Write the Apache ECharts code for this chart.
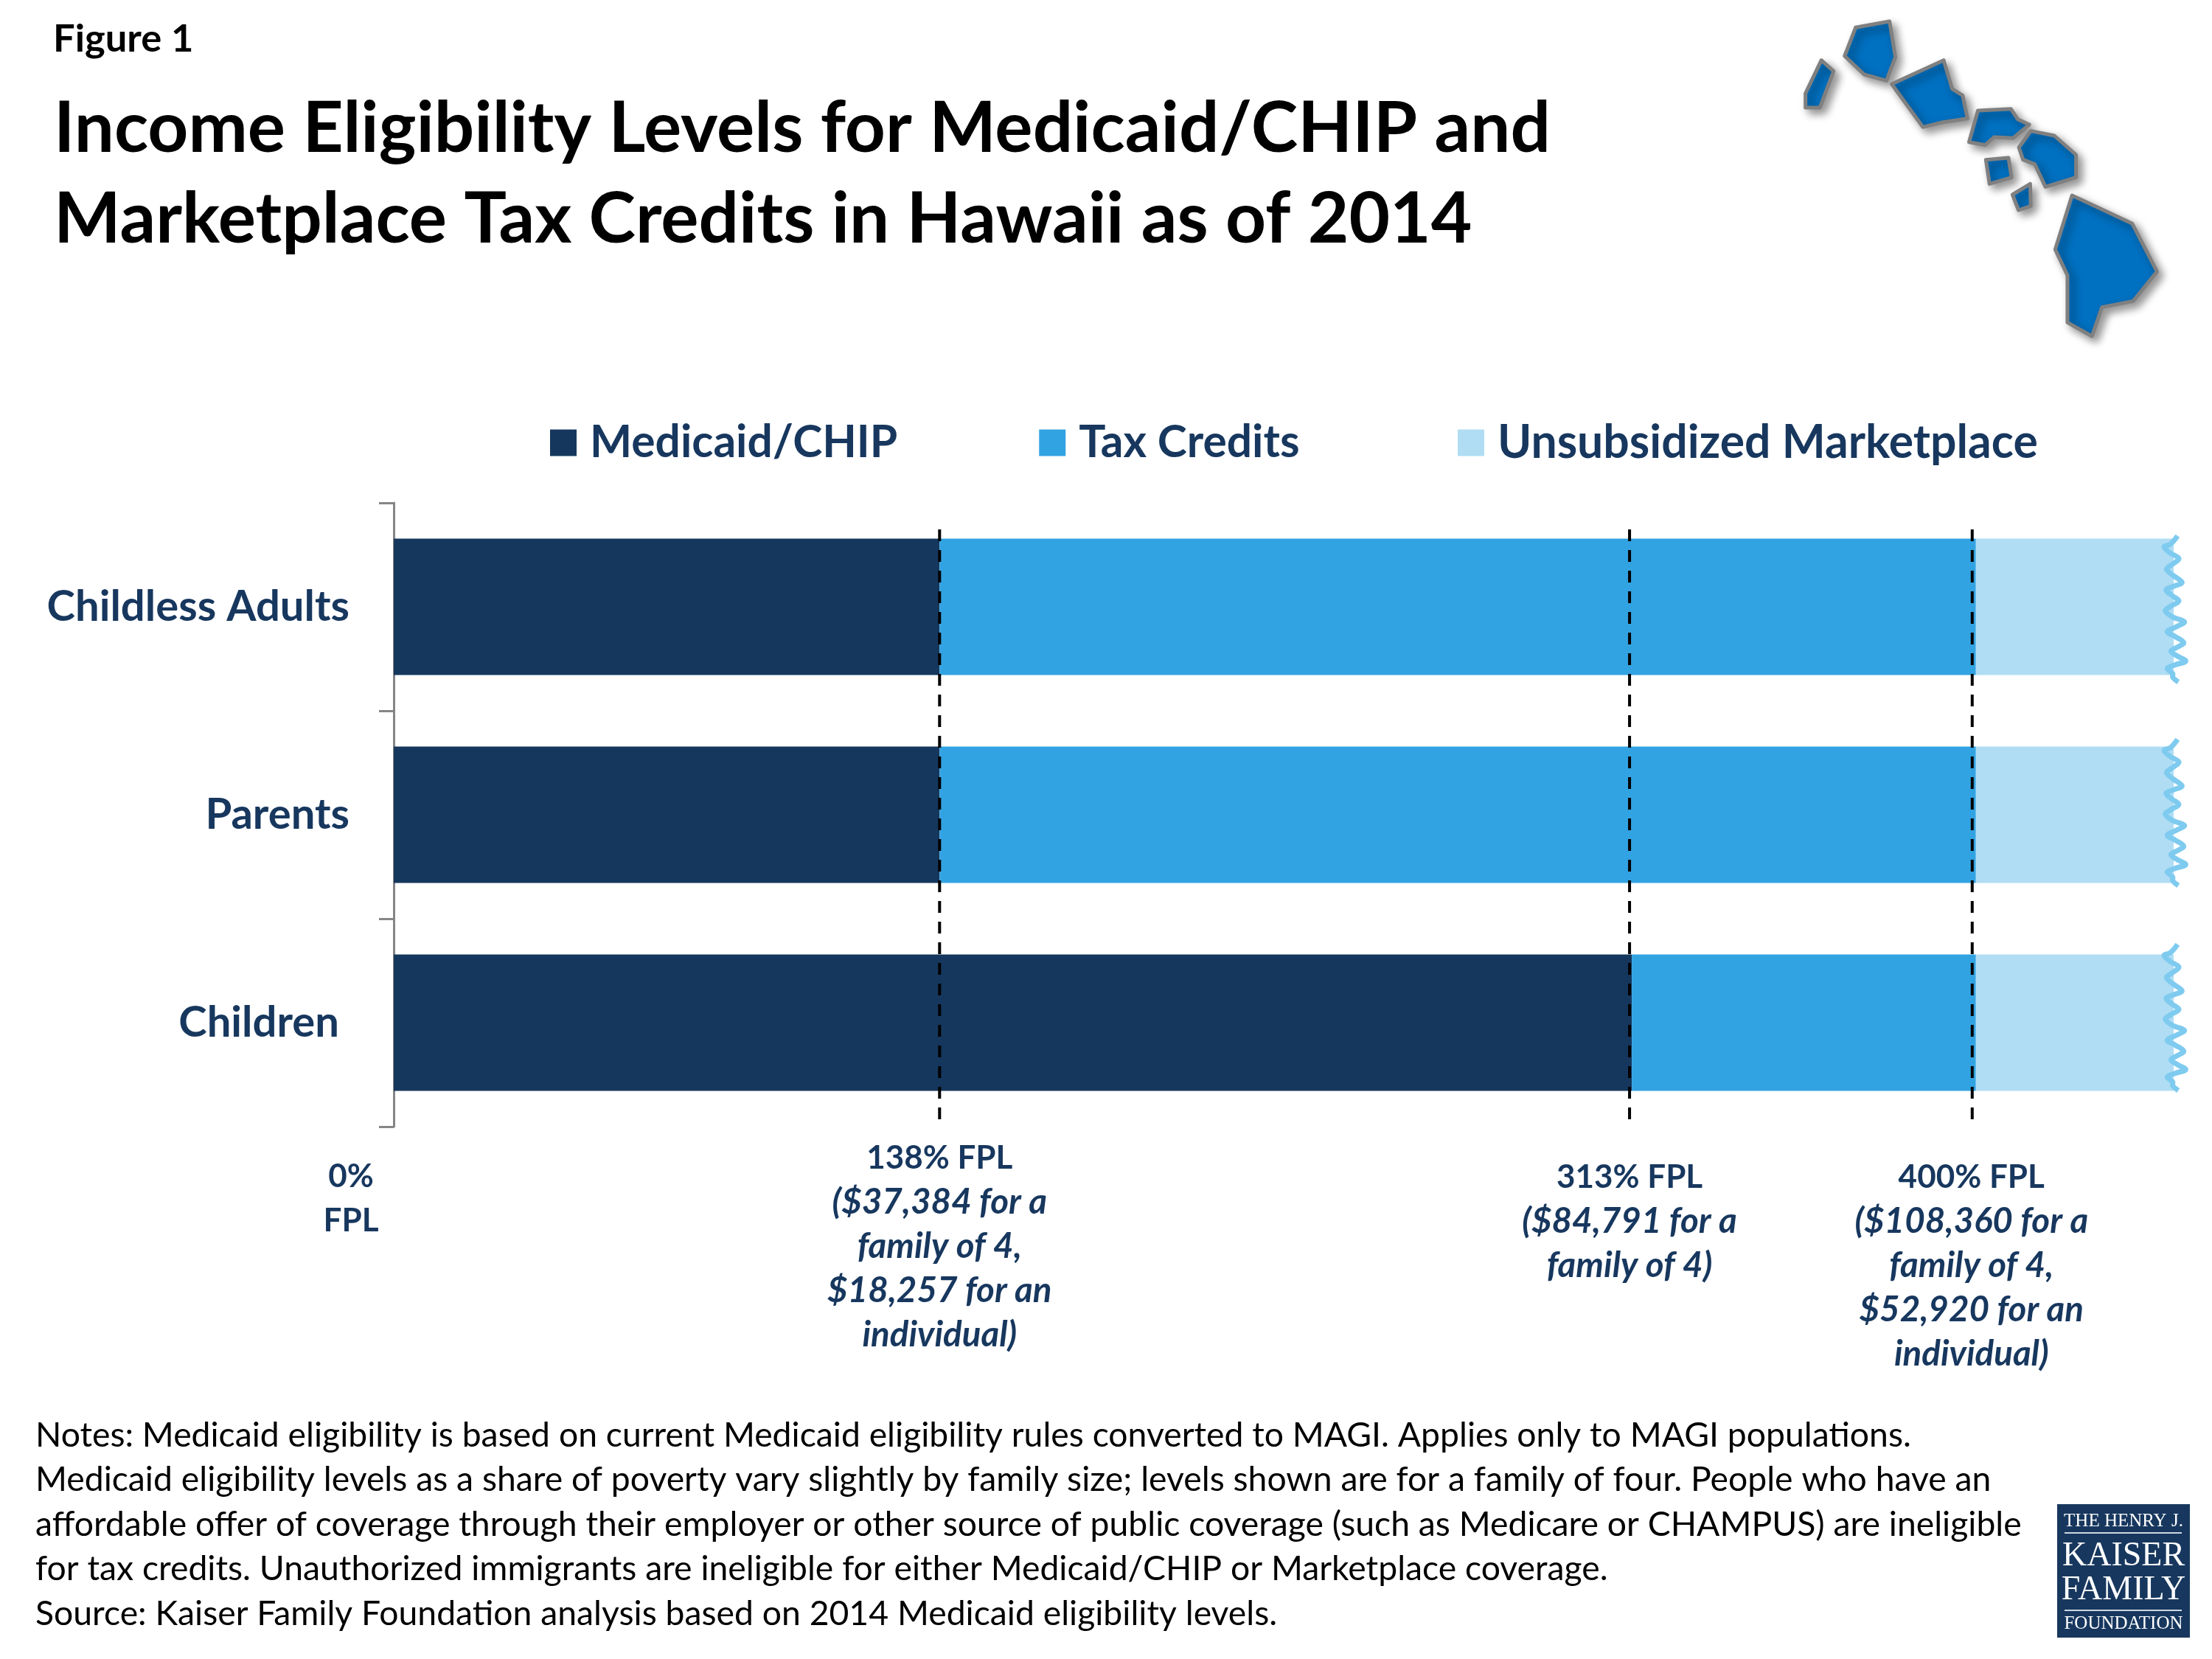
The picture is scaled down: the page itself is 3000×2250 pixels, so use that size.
<!DOCTYPE html>
<html><head><meta charset="utf-8">
<script src="https://cdn.jsdelivr.net/npm/echarts@6/dist/echarts.min.js"></script>
<style>html,body{margin:0;padding:0;background:#fff}#c{width:3000px;height:2250px}</style>
</head><body><div id="c"></div>
<script>
const figureLabel = 'Figure 1';
const titleLines = ['Income Eligibility Levels for Medicaid/CHIP and','Marketplace Tax Credits in Hawaii as of 2014'];
const categories = ['Childless Adults','Parents','Children '];
const medicaid = [138,138,313];
const taxCredits = [262,262,87];
const unsubsidized = [50,50,50];
const fplDashes = [138,313,400];
const fplValues = [0,138,313,400];
const fplHeads = [['0%','FPL'],['138% FPL'],['313% FPL'],['400% FPL']];
const fplDetails = [[],['($37,384 for a','family of 4,','$18,257 for an','individual)'],['($84,791 for a','family of 4)'],['($108,360 for a','family of 4,','$52,920 for an','individual)']];
const notes = ['Notes: Medicaid eligibility is based on current Medicaid eligibility rules converted to MAGI. Applies only to MAGI populations.',
'Medicaid eligibility levels as a share of poverty vary slightly by family size; levels shown are for a family of four. People who have an',
'affordable offer of coverage through their employer or other source of public coverage (such as Medicare or CHAMPUS) are ineligible',
'for tax credits. Unauthorized immigrants are ineligible for either Medicaid/CHIP or Marketplace coverage.',
'Source: Kaiser Family Foundation analysis based on 2014 Medicaid eligibility levels.'];

const NAVY='#15375D', TEXTNAVY='#17375E', F='Lato';
const islands=[
[[290,245],[330,290],[285,438],[238,438],[238,380]],
[[402,112],[513,87],[532,232],[503,328],[430,303],[366,228]],
[[690,245],[718,362],[752,388],[768,482],[688,497],[622,517],[520,342]],
[[802,450],[910,443],[932,485],[970,507],[917,562],[855,558],[826,590],[773,578]],
[[975,533],[1052,552],[1123,630],[1123,722],[1023,760],[988,668],[950,650],[936,600]],
[[828,650],[902,642],[912,722],[840,748]],
[[973,748],[975,838],[935,855],[915,792]],
[[1110,795],[1307,910],[1388,1105],[1310,1225],[1208,1250],[1175,1368],[1095,1312],[1095,1120],[1055,1015]]];
const wave=[[1210,140],[1180,175],[1155,185],[1180,210],[1215,232],[1190,255],[1165,275],[1190,300],[1228,330],[1195,345],[1163,360],[1190,385],[1215,405],[1185,425],[1160,445],[1190,470],[1238,490],[1205,510],[1168,530],[1200,550],[1235,575],[1205,595],[1183,610],[1210,630],[1243,650],[1200,665],[1168,680],[1190,700],[1190,715],[1213,735]]
  .map(p=>[(p[0]-1194)/3,(p[1]-429)/3]);
const waveShift=[0,-6,-10];

const gfx=[];
function txt(x,y,text,size,opt){gfx.push({type:'text',silent:true,x,y,style:Object.assign({text,fontFamily:F,fontSize:size,fontWeight:'normal',fill:'#000',align:'left',verticalAlign:'middle'},opt||{})});}
txt(72,53,figureLabel,52.5,{fontWeight:'bold'});
txt(73,175,titleLines[0],96,{fontWeight:'bold'});
txt(73,298,titleLines[1],96,{fontWeight:'bold'});
notes.forEach((n,i)=>txt(48,1947+i*60.4,n,46.3));
islands.forEach(pts=>gfx.push({type:'polygon',silent:true,shape:{points:pts.map(p=>[2350+p[0]/2.412,p[1]/3])},
  style:{fill:'#0070C0',stroke:'#808080',lineWidth:5,lineJoin:'round',shadowBlur:12,shadowOffsetX:6,shadowOffsetY:6,shadowColor:'rgba(0,0,0,0.4)'}}));
gfx.push({type:'rect',silent:true,shape:{x:2790,y:2040,width:180,height:181},style:{fill:'#17375E'}});
const S='"Liberation Serif"';
txt(2880,2063,'THE HENRY J.',25,{fill:'#fff',align:'center',fontFamily:S});
txt(2880,2111,'KAISER',46,{fill:'#fff',align:'center',fontFamily:S});
txt(2880,2157,'FAMILY',46,{fill:'#fff',align:'center',fontFamily:S});
txt(2880,2202,'FOUNDATION',25,{fill:'#fff',align:'center',fontFamily:S});
[2079,2184].forEach(y=>gfx.push({type:'rect',silent:true,shape:{x:2800,y:y-1,width:159,height:2},style:{fill:'#cfd7e2'}}));

const chart=echarts.init(document.getElementById('c'),null,{renderer:'canvas',width:3000,height:2250});
function bar(name,data,color){return {name,type:'bar',stack:'fpl',data,barWidth:185,itemStyle:{color},silent:true,z:2};}
function legendText(size){return {fontFamily:F,fontSize:size,fontWeight:'bold',color:TEXTNAVY,padding:[0,0,0,13]};}
chart.setOption({
 animation:false,backgroundColor:'#fff',
 grid:{left:534,top:682,width:2414,height:846,containLabel:false},
 legend:[
  {left:741,top:565,itemWidth:36,itemHeight:36,itemGap:192,icon:'rect',selectedMode:false,
   data:['Medicaid/CHIP','Tax Credits'],textStyle:legendText(60.5)},
  {left:1972,top:564,itemWidth:36,itemHeight:36,icon:'rect',selectedMode:false,
   data:['Unsubsidized Marketplace'],textStyle:legendText(62.5)}],
 xAxis:{type:'value',min:0,max:450,show:false},
 yAxis:{type:'category',inverse:true,data:categories,
  axisLine:{show:true,lineStyle:{color:'#868686',width:3}},
  axisTick:{show:true,length:20,alignWithLabel:false,lineStyle:{color:'#868686',width:3}},
  axisLabel:{margin:60,fontFamily:F,fontSize:58,fontWeight:'bold',color:TEXTNAVY}},
 graphic:gfx,
 series:[
  bar('Medicaid/CHIP',medicaid,NAVY),
  bar('Tax Credits',taxCredits,'#32A3E2'),
  bar('Unsubsidized Marketplace',unsubsidized,'#B0DDF4'),
  {type:'custom',silent:true,z:4,clip:false,data:categories.map((c,i)=>[medicaid[i]+taxCredits[i]+unsubsidized[i],i]),
   renderItem(p,api){const c=api.coord([api.value(0),api.value(1)]);
    return {type:'polyline',shape:{points:wave.map(w=>[c[0]+w[0],c[1]+w[1]+waveShift[p.dataIndex]]),smooth:0.35},
     style:{fill:null,stroke:'#7FCBF0',lineWidth:7}};}},
  {type:'custom',silent:true,z:5,clip:false,data:fplDashes.map(v=>[v]),
   renderItem(p,api){const x=api.coord([api.value(0),0])[0]-[0,3,5][p.dataIndex];const s=p.coordSys;
    return {type:'line',shape:{x1:x,y1:s.y+36,x2:x,y2:s.y+s.height},style:{stroke:'#000',lineWidth:4,lineDash:[16,12]}};}},
  {type:'custom',silent:true,z:5,clip:false,data:fplValues.map(v=>[v]),
   renderItem(p,api){const i=p.dataIndex;const x=api.coord([api.value(0),0])[0]+[-58,0,-3,-6][i];
    const y0=[1596,1571,1597,1597][i];const ch=[];
    const lines=fplHeads[i].map(t=>({t,it:false})).concat(fplDetails[i].map(t=>({t,it:true})));
    lines.forEach((l,k)=>ch.push({type:'text',x,y:y0+k*60,style:{text:l.t,fontFamily:F,fontSize:l.it?47.5:44,fontWeight:'bold',fontStyle:l.it?'italic':'normal',fill:TEXTNAVY,align:'center',verticalAlign:'middle'}}));
    return {type:'group',children:ch};}}
 ]
});
</script></body></html>
